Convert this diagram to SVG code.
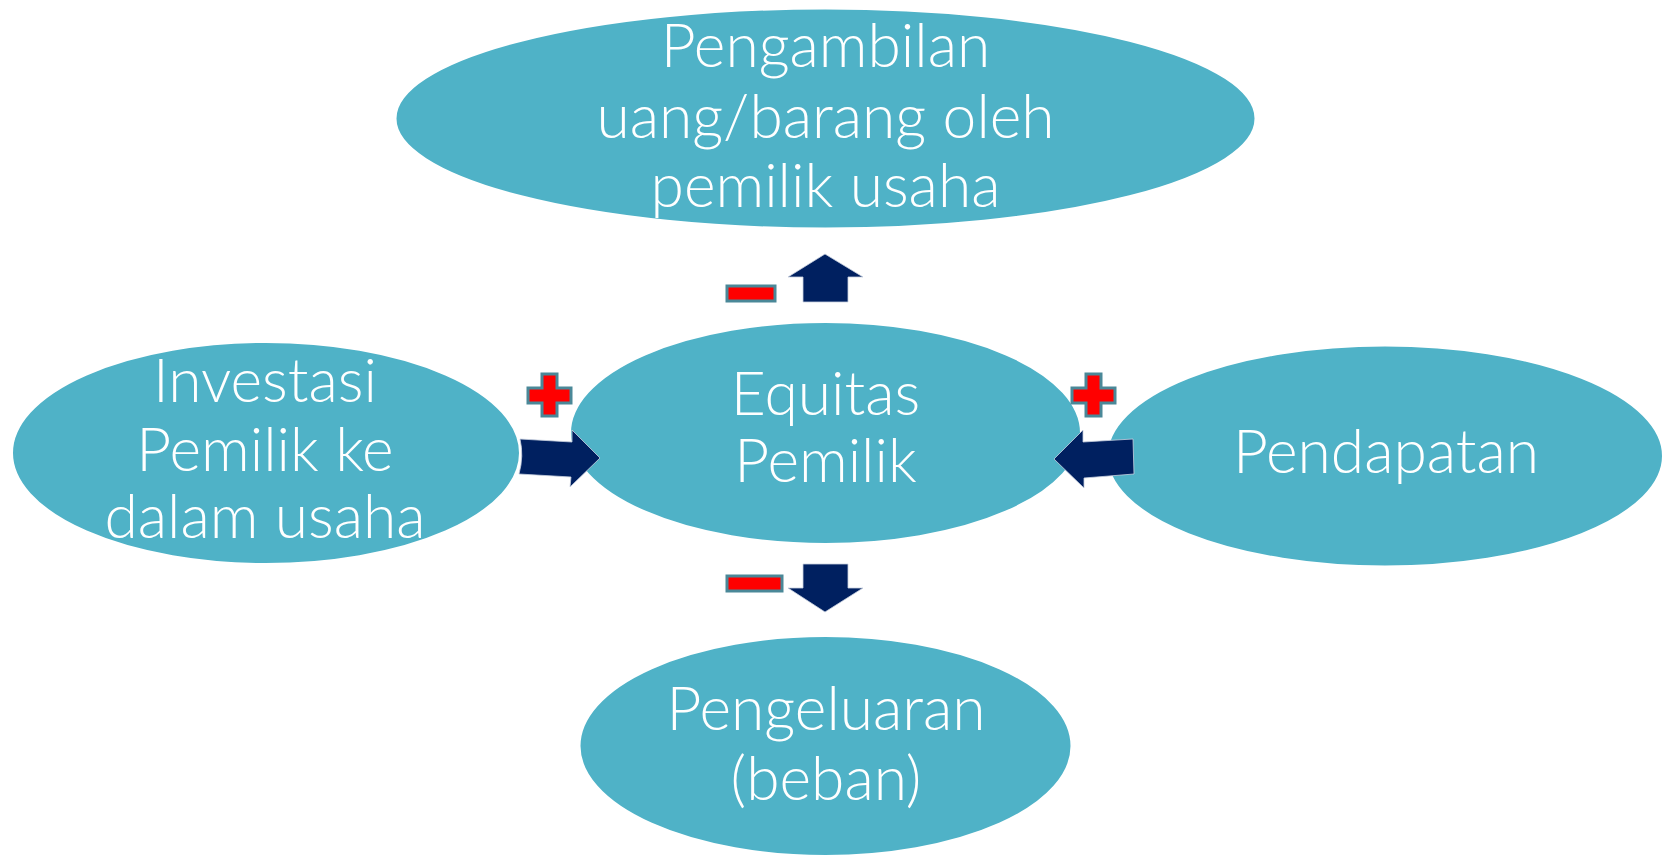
<svg xmlns="http://www.w3.org/2000/svg" width="1667" height="855" viewBox="0 0 1667 855">
<style>
.node ellipse{fill:#4fb2c7;stroke:#ffffff;stroke-width:2}
.node text{fill:#ffffff;font-family:Lato,"Open Sans","Liberation Sans",sans-serif;font-weight:300;font-size:60.5px;text-anchor:middle}
.arrow{fill:#002060;stroke:#c8d0e0;stroke-width:0.8}
.sign{fill:#ff0000;stroke:#4a8898;stroke-width:3}
</style>
<rect width="1667" height="855" fill="#ffffff"/>
<g id="node-pengambilan" class="node">
<ellipse cx="825.5" cy="118.5" rx="430" ry="110"/>
<text x="825.5" y="67">Pengambilan</text>
<text x="825.5" y="138">uang/barang oleh</text>
<text x="825.5" y="207">pemilik usaha</text>
</g>
<g id="node-equitas" class="node">
<ellipse cx="825.5" cy="433" rx="255.5" ry="111"/>
<text x="825.5" y="415">Equitas</text>
<text x="825.5" y="482">Pemilik</text>
</g>
<g id="node-investasi" class="node">
<ellipse cx="266" cy="453" rx="254" ry="111"/>
<text x="265" y="402">Investasi</text>
<text x="265" y="471">Pemilik ke</text>
<text x="265" y="538">dalam usaha</text>
</g>
<g id="node-pendapatan" class="node">
<ellipse cx="1385" cy="456" rx="278" ry="110.5"/>
<text x="1386" y="473">Pendapatan</text>
</g>
<g id="node-pengeluaran" class="node">
<ellipse cx="825.5" cy="746" rx="246" ry="110"/>
<text x="826" y="730">Pengeluaran</text>
<text x="826" y="800">(beban)</text>
</g>
<g id="connectors">
<polygon class="arrow" points="803,302 803,277 788,277 825,254 863,277 848,277 848,302"/>
<polygon class="arrow" points="803,564 848,564 848,588 863,588 825,612 788,588 803,588"/>
<path class="arrow" d="M520,439 L572,442 L572,430 L600,458 L570,487 L571,477 L519,474 Q524,456 520,439 Z"/>
<path class="arrow" d="M1133,439 L1083,442 L1083,430 L1054,459 L1084,488 L1084,478 L1134,474 Z"/>
</g>
<g id="signs">
<rect class="sign" x="727" y="286" width="48" height="15"/>
<rect class="sign" x="727" y="576" width="55" height="15"/>
<polygon class="sign" points="542,374 557,374 557,388 571,388 571,403 557,403 557,416 542,416 542,403 528,403 528,388 542,388"/>
<polygon class="sign" points="1086,374 1101,374 1101,388 1115,388 1115,403 1101,403 1101,416 1086,416 1086,403 1072,403 1072,388 1086,388"/>
</g>
</svg>
